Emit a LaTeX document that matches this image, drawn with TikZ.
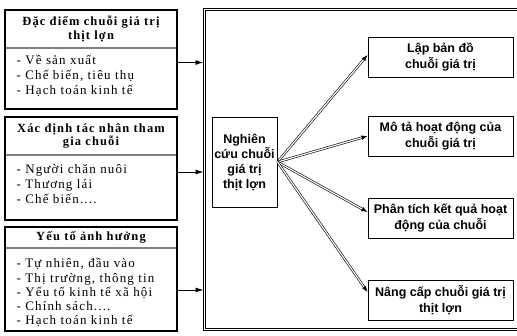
\documentclass[tikz,border=0pt]{standalone}
\usepackage{fontspec}
\setmainfont{Liberation Serif}
\setsansfont{Liberation Sans}
\usetikzlibrary{arrows.meta}

\begin{document}
\begin{tikzpicture}[x=1pt,y=-1pt,
        lbox/.style={draw,line width=1.2pt,minimum width=172pt,inner sep=0pt},
        lhead/.style={font=\fontsize{12.5}{13.5}\selectfont\bfseries\addfontfeature{LetterSpace=9},align=center},
        llist/.style={font=\fontsize{13}{15}\selectfont\addfontfeature{LetterSpace=9},align=left,anchor=north west},
        rbox/.style={draw,line width=1pt,minimum width=145pt,minimum height=40pt,align=center,
            font=\sffamily\bfseries\fontsize{12.5}{16}\selectfont},
        sep/.style={gray,line width=1.6pt},
        arr/.style={line width=0.8pt,-{Latex[length=8pt,width=5pt]}},
        dbl/.style={double,double distance=1.2pt,line width=0.6pt,-{Latex[length=6pt,width=4.5pt]}}]
                        \useasboundingbox (0,0) rectangle (517,335);
                        \clip (0,0) rectangle (517,335);

                        \node[draw,double,double distance=1pt,line width=1pt,minimum width=326pt,minimum height=320pt] (fr) at (367,169.5){};

                        \node[lbox,minimum height=99pt] (dd) at (91,59.5){};
                        \node[lhead] (ddh) at (91,29){Đặc điểm chuỗi giá trị\\thịt lợn};
                        \draw[sep] (6,48) -- (176,48);
                        \node[llist] (ddl) at (13,52){- Về sản xuất\\- Chế biến, tiêu thụ\\- Hạch toán kinh tế};

                        \node[lbox,minimum height=103pt] (tn) at (91,168.5){};
                        \node[lhead] (tnh) at (91,136){Xác định tác nhân tham\\gia chuỗi};
                        \draw[sep] (6,155) -- (176,155);
                        \node[llist] (tnl) at (13,161){- Người chăn nuôi\\- Thương lái\\- Chế biến....};

                        \node[lbox,minimum height=104pt] (yt) at (91,279){};
                        \node[lhead] (yth) at (91,237){Yếu tố ảnh hưởng};
                        \draw[sep] (6,248) -- (176,248);
                        \node[llist,font=\fontsize{13}{14.2}\selectfont\addfontfeature{LetterSpace=9}] (ytl) at (13,255){- Tự nhiên, đầu vào\\- Thị trường, thông tin\\- Yếu tố kinh tế xã hội\\- Chính sách....\\- Hạch toán kinh tế};

                        \node[draw,line width=1pt,minimum width=65pt,minimum height=90pt,inner sep=1pt,align=center,
                            font=\sffamily\bfseries\fontsize{12.5}{15}\selectfont] (ng) at (244.5,162){Nghiên\\cứu chuỗi\\giá trị\\thịt lợn};

                        \node[rbox] (r1) at (440.5,57){Lập bản đồ\\chuỗi giá trị};
                        \node[rbox] (r2) at (440.5,136){Mô tả hoạt động của\\chuỗi giá trị};
                        \node[rbox] (r3) at (440.5,218){Phân tích kết quả hoạt\\động của chuỗi};
                        \node[rbox] (r4) at (440.5,300){Nâng cấp chuỗi giá trị\\thịt lợn};

                        \draw[arr] ([yshift=-3pt]dd.east) -- ([yshift=-3pt]dd.east -| fr.west);
                        \draw[arr] ([yshift=-3.5pt]tn.east) -- ([yshift=-3.5pt]tn.east -| fr.west);
                        \draw[arr] ([yshift=-11pt]yt.east) -- ([yshift=-11pt]yt.east -| fr.west);

                        \draw[dbl] (ng.east) -- ([yshift=2pt]r1.west);
                        \draw[dbl] (ng.east) -- (r2.west);
                        \draw[dbl] (ng.east) -- ([yshift=6pt]r3.west);
                        \draw[dbl] (ng.east) -- ([yshift=8pt]r4.west);
                    \end{tikzpicture}
\end{document}
